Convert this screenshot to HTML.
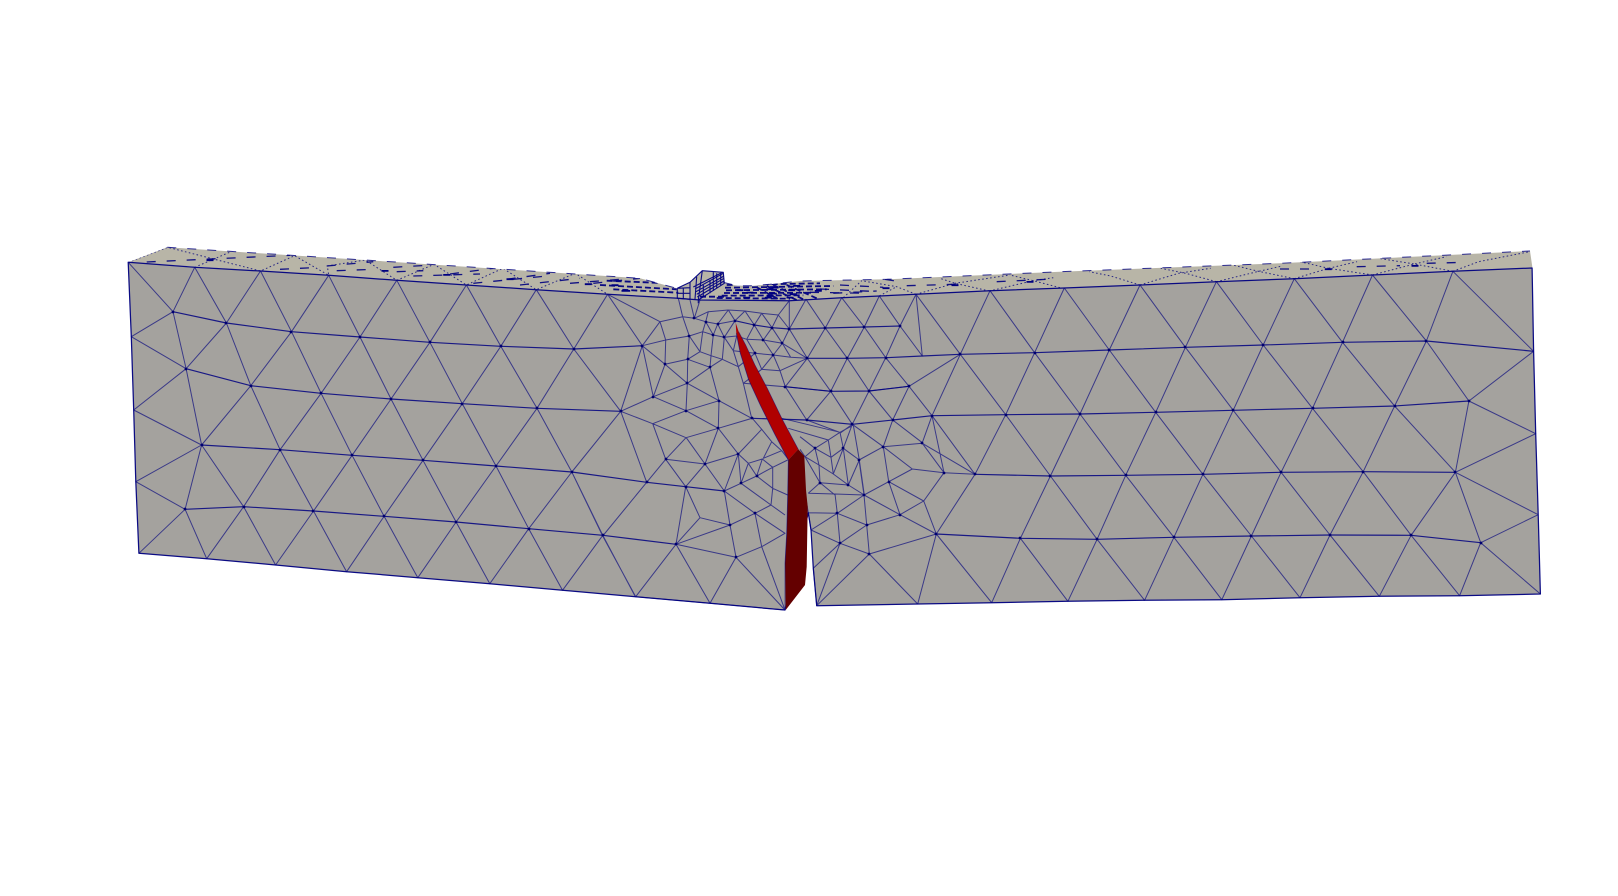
<!DOCTYPE html>
<html lang="en">
<head>
<meta charset="utf-8">
<title>Cracked beam mesh</title>
<style>
html,body{margin:0;padding:0;background:#fff;width:1618px;height:896px;overflow:hidden}
svg{display:block}
</style>
</head>
<body>
<svg id="scene" width="1618" height="896" viewBox="0 0 1618 896" xmlns="http://www.w3.org/2000/svg">
  <defs><clipPath id="strip-clip"><path id="strip-clip-path"/></clipPath></defs>
  <g id="layer-solid"></g>
  <g id="layer-strip" clip-path="url(#strip-clip)"></g>
  <g id="layer-mesh"></g>
  <g id="layer-crack"></g>
</svg>
<script>
// Mesh views: each token is a vertex in the local units of one survey frame.
const frameOrigins = {A:[100,230],B:[600,250],C:[600,430],D:[1000,240],E:[700,400],F:[380,250],G:[800,265],H:[670,265],I:[1280,245],J:[120,240],K:[725,320]};
const frameScales = {A:[2.904,3],B:[3,3],C:[3,3],D:[2.8,3],E:[3,3],F:[3,3],G:[3,3],H:[3,3],I:[3,3],J:[3,3],K:[3,3]};

const outlineFront = "A82,97 A275,112 A466,123 A664,136 A862,151 A1064,165 A1267,179 A1474,193 B235,145 B300,150 B568,152 B725,143 B838,138 B948,133 B1170,122 D180,144 D392,135 D606,125 D824,116 D1043,105 D1268,94 D1490,84 D1494,334 D1500,581 D1507,824 D1513,1062 D1287,1067 D1062,1069 D840,1073 D621,1079 D405,1081 D190,1084 C1175,518 C953,522 C650,527 C640,415 C633,300 C625,248 C555,540 C330,520 C107,500 A1343,1081 A1132,1061 A923,1043 A716,1025 A510,1005 A310,986 A113,970 A104,755 A98,540 A91,320";
const outlineStrip = "A82,97 J142,22 F0,33 F780,85 H20,70 H60,52 H97,17 H160,22 H163,52 H200,62 H250,62 H300,58 H390,48 G260,43 G780,20 I0,55 I750,18 I757,65 D1490,84 D1268,94 D824,116 B948,133 B568,152 B300,150 B235,145 A1474,193 A664,136";

const meshRows = [
"A212,245 A367,279 A556,305 A755,321 A958,337 A1164,349 A1376,357 B128,287",
"A250,416 A438,467 A642,490 A845,507 A1052,521 A1269,535 A1512,544",
"A295,645 A523,659 A732,676 A938,691 A1150,708 A1370,726 C140,157 C257,170 C373,183",
"A247,838 A417,830 A620,843 A825,859 A1034,876 A1245,896 A1460,916 C228,343",
"B1081,313 D97,338 D306,330 D519,322 D737,315 D959,307 D1194,303 D1494,334",
"B996,497 D16,524 D224,522 D436,517 D653,511 D875,505 D1105,498 D1313,483",
"C1125,133 D141,708 D352,706 D568,703 D787,697 D1017,695 D1275,697",
"C1009,312 D57,895 D272,898 D487,892 D704,888 D924,885 D1151,886 D1346,908",
"B405,212 B463,225 B516,233 B568,237 B676,234 B793,231 B900,228",
"B622,325 B742,325 B857,323 B967,318 B1081,313",
"B556,410 B692,424 B807,423 B927,409",
"B455,505 B620,510 B757,523 B878,510 B996,497"
];

const meshEdges = [
"A82,97 A212,245 A91,320 A250,416 A98,540 A295,645 A104,755 A247,838 A113,970",
"A212,245 A275,112 A367,279 A466,123 A556,305 A664,136 A755,321 A862,151 A958,337 A1064,165 A1164,349 A1267,179 A1376,357 A1474,193",
"A212,245 A250,416 A367,279 A438,467 A556,305 A642,490 A755,321 A845,507 A958,337 A1052,521 A1164,349 A1269,535 A1376,357 A1512,544",
"A250,416 A295,645 A438,467 A523,659 A642,490 A732,676 A845,507 A938,691 A1052,521 A1150,708 A1269,535 A1370,726 A1512,544",
"A295,645 A247,838",
"A295,645 A417,830 A523,659 A620,843 A732,676 A825,859 A938,691 A1034,876 A1150,708 A1245,896 A1370,726 A1460,916",
"A113,970 A247,838 A310,986 A417,830 A510,1005 A620,843 A716,1025 A825,859 A923,1043 A1034,876 A1132,1061 A1245,896 A1343,1081 A1460,916 A1555,1101",
"D97,338 D180,144 D306,330 D392,135 D519,322 D606,125 D737,315 D824,116 D959,307 D1043,105 D1194,303 D1268,94 D1494,334",
"D16,524 D97,338 D224,522 D306,330 D436,517 D519,322 D653,511 D737,315 D875,505 D959,307 D1105,498 D1194,303 D1313,483 D1494,334",
"C1125,133 D16,524 D141,708 D224,522 D352,706 D436,517 D568,703 D653,511 D787,697 D875,505 D1017,695 D1105,498 D1275,697 D1313,483 D1500,581 D1275,697 D1507,824",
"D57,895 D141,708 D272,898 D352,706 D487,892 D568,703 D704,888 D787,697 D924,885 D1017,695 D1151,886 D1275,697 D1346,908 D1507,824",
"C1175,518 D57,895 D190,1084 D272,898 D405,1081 D487,892 D621,1079 D704,888 D840,1073 D924,885 D1062,1069 D1151,886 D1287,1067 D1346,908 D1513,1062",
"D97,338 B1170,122 B1081,313 D16,524",
"B948,133 B1081,313",
"C1125,133 B996,497 B1081,313 B927,409 B996,497",
// central upper zone
"A1474,193 B180,215 B127,287 A1474,193",
"A1376,357 A1512,544 B127,287 B160,440 A1512,544 B158,521 B258,563 B355,535",
"A1512,544 C140,157 C8,318 A1370,726",
"B127,287 B197,270 B180,215 B248,200 B268,258 B197,270 B195,343 B127,287",
"B195,343 B263,328 B268,258 B300,305 B263,328 B330,352 B262,400 B263,328",
"B195,343 B262,400 B160,440 B195,343",
"B160,440 B258,482 B262,400 B357,452 B330,352",
"B158,521 B258,482 B357,452 B355,535 B258,482",
"B300,305 B333,317 B367,328 B415,350",
"B333,317 B330,352 B367,328",
"B300,305 B308,245 B268,258",
"B308,245 B340,255 B373,262 B410,258 B440,268 B490,270 B547,280 B622,325",
"B340,255 B333,317; B373,262 B367,328",
"B373,262 B400,302 B415,350 B465,310 B400,302 B410,258",
"B248,200 B235,145; B248,200 B283,205 B317,215 B353,222 B405,212 B373,262 B353,222 B340,255 B317,215 B308,245",
"B283,205 B270,150; B283,205 B300,150; B283,205 B325,185 B317,215",
"B325,185 B385,180 B353,222; B385,180 B405,212 B435,183 B385,180",
"B435,183 B463,225 B485,190 B435,183",
"B485,190 B516,233 B535,195 B485,190",
"B535,195 B568,237 B568,152 B535,195",
"B568,237 B618,148 B676,234 B725,143 B793,231 B838,138 B900,228 B948,133 B967,318 B900,228 B857,323 B793,231 B742,325 B676,234 B622,325 B568,237 B547,280 B516,233 B490,270 B463,225 B440,268 B465,310 B520,315 B572,322 B622,325",
"B490,270 B520,315 B547,280 B572,322",
"B465,310 B485,358 B520,315 B540,362 B622,325 B556,410 B540,362 B485,358 B430,400 B415,350",
"B430,400 B556,410 B620,510 B692,424 B556,410; B622,325 B692,424 B742,325 B807,423 B857,323 B927,409 B807,423 B757,523 B692,424",
"B878,510 B807,423; B878,510 B927,409",
"B430,400 B455,505 B357,452; B455,505 B355,535",
"B620,510 B722,548 B757,523 B850,590 B878,510 B967,578 B996,497 C1032,128",
"B757,523 E430,145 E478,180 E460,75",
// lower left of crack
"C140,157 C197,88 C315,102 C415,72 C355,-5 C315,102 C258,22",
"B158,521 C197,88",
"C197,88 C257,170 C315,102 C373,183 C415,72",
"C197,88 B258,563",
"C373,183 C423,160 C415,72 C445,100 C423,160 C470,138 C445,100 C487,87 C470,138 C518,112 C487,87",
"C415,72 E185,88 E157,55 E55,85",
"E185,88 E215,125 E245,152 E265,178",
"E215,125 E190,175 E245,152",
"C518,112 C518,175 C470,138; C423,160 C513,225 C518,175 C563,195; C518,112 C563,90",
"C373,183 C465,250 C513,225 C555,255; C465,250 C555,310 C485,350 C465,250",
"C465,250 C390,285 C373,183; C390,285 C300,263 C257,170; C300,263 C228,343 C257,170",
"C390,285 C228,343 C408,382 C390,285; C408,382 C485,350 C555,540 C408,382 C330,520 C228,343 C107,500 C8,318",
"C107,500 C330,520 C555,540",
// lower right of crack
"E225,50 E420,97; E265,85 E385,120; E300,110 E345,145; E300,148 E315,170",
"E385,120 E420,97 E460,75; E385,120 E345,145 E315,170; E385,120 E393,172 E345,145 E357,195 E400,222 E393,172 E430,145 E400,222; E420,97 E430,145 E445,255 E400,222",
"E357,195 E360,248 E315,170 E357,195; E360,248 E445,255 E478,180 E493,285 E445,255; E360,248 E405,285; E360,248 E325,280",
"C625,190 C705,192 C792,195 C800,285 C808,372 C1009,312",
"C705,192 C712,250 C720,340; C625,248 C712,250 C800,285 C900,254 C1009,312",
"C712,250 C792,195; C633,300 C712,250; C633,300 C720,340 C808,372; C720,340 C800,285; C640,415 C720,340 C650,527 C808,372 C953,522 C1009,312 C1175,518",
"C650,527 C640,415",
"C792,195 C866,155 C850,50 C777,90 C792,195; C792,195 C900,254 C971,213 C866,155 C937,117 C850,50 C967,40 C1032,128 C937,117",
"C1032,128 C1125,133; C1032,128 C971,213 C1009,312 C1125,133; C967,40 C1125,133; C900,254 C866,155",
"C615,190 C625,248 C633,300"
];

const plateEdges = [
"H22,70 H60,52 H97,17 H160,22 H163,55 H85,105 H85,115",
"H22,70 H22,100 H60,103 H60,52; H22,70 H60,68; H22,85 H60,85; H40,68 H40,102; H97,17 H85,105; H80,35 H75,102",
"H75,72 H160,25; H78,80 H162,33; H80,88 H162,40; H82,96 H162,48; H70,66 H158,22",
"H100,60 H100,95; H120,45 H120,85; H130,22 H130,78; H140,25 H140,70; H152,24 H152,62"
];

const stripDotted = [
"A82,97 A197,52 A466,123 A565,77 A664,136 A660,108 A770,90 A862,151 A970,103 A1064,165 A1170,115 A1267,179 A1380,130 A1474,193",
"A275,112 A380,65",
"G130,98 G185,47; G238,93 G290,65; G348,88 G290,65 G185,47; G348,88 G465,55 G630,30; G568,78 G465,55 G420,40; G568,78 G700,47 G760,38; G780,68 G700,47 G630,30",
"D392,135 D310,108 D250,95; D392,135 D500,100 D590,85; D606,125 D520,100 D450,85; D606,125 D720,95 D790,78; D824,116 D720,93 D640,72; D824,116 D920,85 D1000,65; D1043,105 D920,85 D840,65; D1043,105 D1160,72 D1250,50; D1268,94 D1160,72 D1060,55; D1268,94 D1340,65 D1483,35"
];

const stripBackEdges = [
"J142,22 F0,33 F780,85 H20,70",
"H160,52 H200,62 H250,62 H300,58 H390,48 G260,43 G780,20 I0,55 I750,18"
];

const stripDashes = [
"J80,66 J510,46","J480,88 J600,82","J620,78 J760,65","J650,92 J760,88",
"F40,52 F160,45","F50,65 F130,62","F100,78 F300,72","F210,72 F340,55","F280,100 F500,78","F380,88 F510,70","F420,105 F600,85","F570,100 F720,88","F640,100 F780,85",
"G320,62 G470,58","G255,43 G300,50","G120,60 G250,67","G60,72 G240,80","I0,72 I120,72","I230,65 I360,62","I440,55 I560,52","G590,50 G760,42",
"G30,82 G210,85","G100,85 G230,78"
];

const denseDashes = [
"B380,105 B660,100","B375,113 B700,108","B378,121 B680,118","B372,129 B640,128","B365,137 B610,136","B350,144 B570,146",
"B0,105 B230,118","B20,92 B260,102","B40,118 B235,128","B300,140 B380,140",
"B500,108 B590,150","B520,105 B610,148","B560,105 B650,145","B470,112 B540,150"
];

const stripBlobs = ["J270,58","F15,60","F200,72","F390,85","F625,100","F705,103","F740,120","G258,67","G465,58","G690,48","I145,70","I405,60","B510,115","B520,128","B575,118","B590,105","B450,125","B505,140","B525,110","B510,135","B580,130","B570,140","B440,140","B420,118","B655,120","B45,103","B75,120"];

const crackFace = "K32,8 K41,35 K62,75 K90,135 K127,205 K172,298 K220,388 K190,420 K148,340 K107,258 K71,180 K46,100 K34,40";
const crackWall = "K190,420 K220,388 K238,408 C618,180 C623,230 C620,410 C615,465 C557,540 C555,400 C560,310 C563,195";
const crackEdge = "K34,40 K46,100 K71,180 K107,258 K148,340 K190,420 C563,195 C560,310 C555,400 C555,540";
const crackEdgeRight = "K41,35 K62,75 K90,135 K127,205 K172,298 K220,388";

function sx(frame, u){ return frameOrigins[frame][0] + u / frameScales[frame][0]; }
function sy(frame, v){ return frameOrigins[frame][1] + v / frameScales[frame][1]; }
function parseLine(text){
  const pts = [];
  const re = /([A-Z])(-?\d+),(-?\d+)/g;
  let m;
  while ((m = re.exec(text))) pts.push([sx(m[1], +m[2]), sy(m[1], +m[3])]);
  return pts;
}
function toD(list, close){
  let d = "";
  list.forEach(function(entry){
    entry.split(";").forEach(function(part){
      const pts = parseLine(part);
      pts.forEach(function(p,i){ d += (i ? "L" : "M") + p[0].toFixed(1) + " " + p[1].toFixed(1); });
      if (close) d += "Z";
    });
  });
  return d;
}
const NS = "http://www.w3.org/2000/svg";
function mk(parent, d, fill, stroke, width, opacity, dash){
  const el = document.createElementNS(NS, "path");
  el.setAttribute("d", d);
  el.setAttribute("fill", fill);
  if (stroke) el.setAttribute("stroke", stroke);
  if (width) el.setAttribute("stroke-width", width);
  if (opacity) el.setAttribute("stroke-opacity", opacity);
  if (dash) el.setAttribute("stroke-dasharray", dash);
  el.setAttribute("stroke-linejoin", "round");
  parent.appendChild(el);
  return el;
}

const solid = document.getElementById("layer-solid");
const strip = document.getElementById("layer-strip");
const mesh = document.getElementById("layer-mesh");
const crack = document.getElementById("layer-crack");
document.getElementById("strip-clip-path").setAttribute("d", toD([outlineStrip], true));

const stripFill = mk(solid, toD([outlineStrip], true), "#b8b5a7");


const frontFill = mk(solid, toD([outlineFront], true), "#a4a29e");



const dotted = mk(strip, toD(stripDotted), "none", "#10107f", 1, 0.85, "1.6 2.4");


const dashes = mk(strip, toD(stripDashes), "none", "#000080", 1.3, 0.9, "9 11");


const dense = mk(strip, toD(denseDashes), "none", "#000080", 1.8, 0.95, "6 3");


const backs = mk(solid, toD(stripBackEdges), "none", "#000080", 1, 0.8, "9 11");



let blobD = "";
stripBlobs.forEach(function(t){
  const p = parseLine(t)[0];
  blobD += "M" + (p[0]-3.5).toFixed(1) + " " + p[1].toFixed(1) + "h7v1.8h-7Z";
});
const blobs = mk(strip, blobD, "#000080");



const edges = mk(mesh, toD(meshEdges), "none", "#10107f", 1, 0.72);


const rows = mk(mesh, toD(meshRows), "none", "#000080", 1.15, 0.85);


const plate = mk(mesh, toD(plateEdges), "none", "#000080", 1.1, 0.95);


const outline = mk(mesh, toD([outlineFront], true), "none", "#000080", 1.25, 0.95);



// Node dots appear at interior vertices (degree of 5 or more).
const degree = {};
meshEdges.concat(meshRows).forEach(function(entry){
  entry.split(";").forEach(function(part){
    const pts = parseLine(part);
    pts.forEach(function(p,i){
      const k = Math.round(p[0]) + "," + Math.round(p[1]);
      degree[k] = (degree[k] || 0) + ((i > 0 ? 1 : 0) + (i < pts.length - 1 ? 1 : 0));
    });
  });
});
let dotD = "";
Object.keys(degree).forEach(function(k){
  if (degree[k] >= 5) {
    const xy = k.split(",").map(Number);
    dotD += "M" + (xy[0]-1.4) + " " + xy[1] + "a1.4 1.4 0 1 0 2.8 0a1.4 1.4 0 1 0 -2.8 0Z";
  }
});
const dots = mk(mesh, dotD, "#000070");



const face = mk(crack, toD([crackFace], true), "#b00000");


const wall = mk(crack, toD([crackWall], true), "#640000");


const cEdge = mk(crack, toD([crackEdge]), "none", "#000080", 0.8, 0.6);


const cEdgeR = mk(crack, toD([crackEdgeRight]), "none", "#000080", 0.7, 0.5);


</script>
</body>
</html>
